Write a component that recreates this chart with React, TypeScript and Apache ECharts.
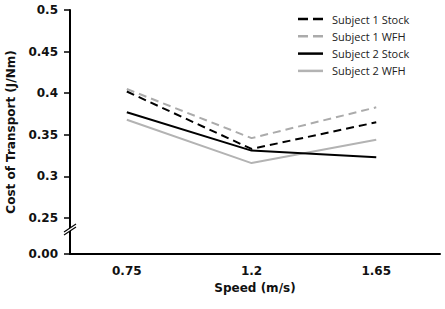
import React, { useEffect, useRef } from "react";
import * as echarts from "echarts";

const speeds = [0.75, 1.2, 1.65];
const seriesNames = ["Subject 1 Stock", "Subject 1 WFH", "Subject 2 Stock", "Subject 2 WFH"];
const subject1Stock = [0.402, 0.333, 0.365];
const subject1WFH = [0.405, 0.346, 0.383];
const subject2Stock = [0.377, 0.331, 0.323];
const subject2WFH = [0.368, 0.316, 0.344];
const yTickValues = [0.2067, 0.25, 0.3, 0.35, 0.4, 0.45, 0.5];

const AXIS_FONT = "DejaVu Sans";

export default function App() {
  const ref = useRef<HTMLDivElement>(null);
  useEffect(() => {
    document.body.style.margin = "0";
    const chart = echarts.init(ref.current!, null, { renderer: "svg" });
    const toPairs = (vals: number[]) => speeds.map((s, i) => [s, vals[i]]);
    const styles = [
      { color: "#000000", dash: [8, 5], z: 4 },
      { color: "#ababab", dash: [8, 5], z: 2 },
      { color: "#000000", dash: null, z: 3 },
      { color: "#b3b3b3", dash: null, z: 1 },
    ];
    const values = [subject1Stock, subject1WFH, subject2Stock, subject2WFH];
    chart.setOption({
      animation: false,
      grid: { left: 70, right: 5, top: 10, bottom: 55, outerBoundsMode: "none" },
      xAxis: {
        type: "value",
        min: 0.545,
        max: 1.88,
        name: "Speed (m/s)",
        nameLocation: "middle",
        nameGap: 26,
        nameTextStyle: { fontFamily: AXIS_FONT, fontWeight: "bold", fontSize: 12, color: "#111" },
        axisLine: { lineStyle: { color: "#000", width: 2 } },
        axisTick: { show: false },
        splitLine: { show: false },
        axisLabel: {
          customValues: speeds,
          margin: 11,
          fontFamily: AXIS_FONT,
          fontWeight: "bold",
          fontSize: 12,
          color: "#111",
          formatter: (v: number) => String(v),
        },
      },
      yAxis: {
        type: "value",
        min: 0.2067,
        max: 0.5,
        name: "Cost of Transport (J/Nm)",
        nameLocation: "middle",
        nameGap: 49,
        nameTextStyle: { fontFamily: AXIS_FONT, fontWeight: "bold", fontSize: 12, color: "#111" },
        axisLine: { show: true, lineStyle: { color: "#000", width: 2 } },
        axisTick: { show: true, customValues: yTickValues, length: 6, lineStyle: { color: "#000", width: 1.5 } },
        splitLine: { show: false },
        axisLabel: {
          customValues: yTickValues,
          margin: 12,
          fontFamily: AXIS_FONT,
          fontWeight: "bold",
          fontSize: 12,
          color: "#111",
          formatter: (v: number) => (v < 0.22 ? "0.00" : String(v)),
        },
      },
      series: values.map((vals, i) => ({
        type: "line",
        name: seriesNames[i],
        data: toPairs(vals),
        showSymbol: false,
        symbol: "none",
        z: styles[i].z,
        itemStyle: { color: styles[i].color },
        lineStyle: { color: styles[i].color, width: 2, type: styles[i].dash || "solid" },
      })),
    });
    const p = chart.convertToPixel({ gridIndex: 0 }, [0.545, 0.2368]) as number[];
    const x = p[0];
    const y = p[1];
    const legendLeft = 298;
    const legendTop = 19;
    const legendStep = 17.3;
    const legendItems: any[] = [];
    seriesNames.forEach((name, i) => {
      const cy = legendTop + i * legendStep;
      legendItems.push({
        type: "line",
        shape: { x1: legendLeft, y1: cy, x2: legendLeft + 25, y2: cy },
        style: {
          stroke: styles[i].color,
          lineWidth: 2.5,
          lineDash: styles[i].dash ? [10, 5] : null,
        },
      });
      legendItems.push({
        type: "text",
        x: legendLeft + 34,
        y: cy,
        style: {
          text: name,
          fontFamily: "Open Sans",
          fontSize: 11,
          fill: "#222",
          verticalAlign: "middle",
          align: "left",
        },
      });
    });
    chart.setOption({
      graphic: [
        ...legendItems,
        {
          type: "polygon",
          z: 100,
          shape: { points: [[x - 6, y + 3], [x + 6, y - 5], [x + 6, y - 2], [x - 6, y + 6]] },
          style: { fill: "#fff" },
        },
        {
          type: "line",
          z: 101,
          shape: { x1: x - 6, y1: y + 3, x2: x + 6, y2: y - 5 },
          style: { stroke: "#000", lineWidth: 1.2 },
        },
        {
          type: "line",
          z: 101,
          shape: { x1: x - 6, y1: y + 6, x2: x + 6, y2: y - 2 },
          style: { stroke: "#000", lineWidth: 1.2 },
        },
      ],
    });
    return () => chart.dispose();
  }, []);
  return <div ref={ref} style={{ width: 445, height: 309 }} />;
}
